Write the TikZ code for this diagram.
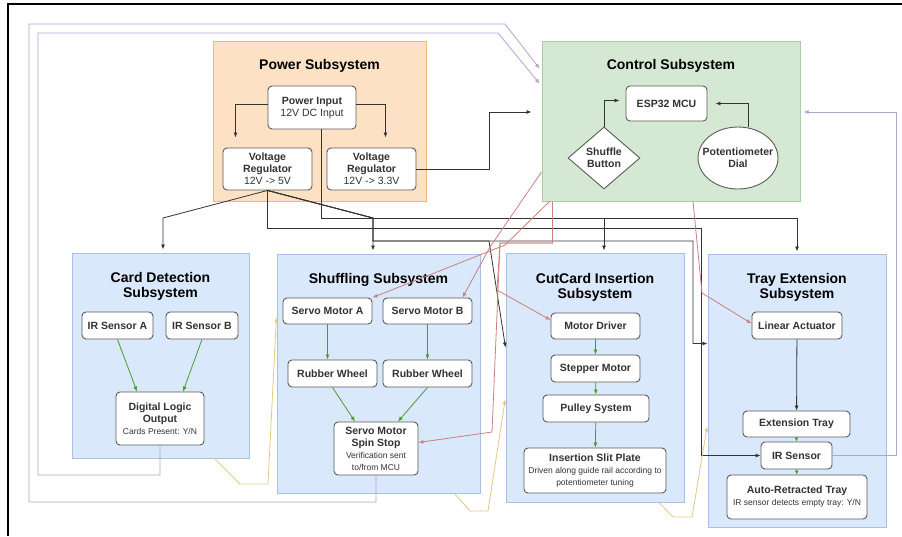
\documentclass[tikz,border=0pt]{standalone}
\usepackage{fontspec}
\setmainfont{Liberation Sans}
\usetikzlibrary{arrows.meta,shapes.geometric}
\definecolor{ink}{HTML}{333333}
\definecolor{edge}{HTML}{5A5A5A}
\definecolor{pwrFill}{HTML}{FCE1C5}
\definecolor{pwrLine}{HTML}{EEBB70}
\definecolor{ctlFill}{HTML}{D5E8D4}
\definecolor{ctlLine}{HTML}{A8CFA5}
\definecolor{subFill}{HTML}{DAE8FC}
\definecolor{subLine}{HTML}{A9C1E5}
\definecolor{sigGreen}{HTML}{4C9A2A}
\definecolor{sigRed}{HTML}{CC7F7F}
\definecolor{sigPurple}{HTML}{B3A3D1}
\definecolor{sigYellow}{HTML}{E3C882}
\newcommand{\smalltxt}[1]{{\fontsize{8.5}{10.5}\selectfont\mdseries #1}}
\tikzset{
  pwrgroup/.style={draw=pwrLine,fill=pwrFill,line width=1pt,inner sep=0pt},
  ctlgroup/.style={draw=ctlLine,fill=ctlFill,line width=1pt,inner sep=0pt},
  subgroup/.style={draw=subLine,fill=subFill,line width=1pt,inner sep=0pt},
  title/.style={font=\fontsize{14}{15}\selectfont\bfseries,text=black,align=center},
  part/.style={draw=edge,fill=white,rounded corners=4pt,line width=0.9pt,align=center,
    font=\fontsize{10.5}{12}\selectfont\bfseries,text=ink,inner sep=1pt},
  wire/.style={-{Latex[length=5pt,width=4pt]},line width=0.8pt,draw=ink},
  feed/.style={wire,draw=sigGreen},
  ctlwire/.style={wire,draw=sigRed},
  backwire/.style={wire,draw=sigPurple,shorten >=3pt},
  linkwire/.style={wire,draw=sigYellow,shorten >=2pt}
}

\begin{document}
\begin{tikzpicture}[x=1pt,y=-1pt]
  \useasboundingbox (0,0) rectangle (902,536);
  \draw[line width=1.6pt] (902,4) -- (8,4) -- (8,536);

  % subsystem groups
  \node[pwrgroup,minimum width=213pt,minimum height=160pt] (pwr) at (319.5,121) {};
  \node[ctlgroup,minimum width=258pt,minimum height=160pt] (ctrl) at (671,121) {};
  \node[subgroup,minimum width=177pt,minimum height=205pt] (card) at (160.5,355.5) {};
  \node[subgroup,minimum width=203pt,minimum height=239pt] (shuf) at (378.5,373.5) {};
  \node[subgroup,minimum width=178pt,minimum height=249pt] (cut) at (595,377.5) {};
  \node[subgroup,minimum width=178pt,minimum height=273pt] (tray) at (797,390.5) {};

  \node[title] (pwrtitle) at (319.5,66) {Power Subsystem};
  \node[title] (ctrltitle) at (671,66) {Control Subsystem};
  \node[title] (cardtitle) at (160.5,286) {Card Detection\\Subsystem};
  \node[title] (shuftitle) at (378.5,280) {Shuffling Subsystem};
  \node[title] (cuttitle) at (595,287) {CutCard Insertion\\Subsystem};
  \node[title] (traytitle) at (797,287) {Tray Extension\\Subsystem};

  % power
  \node[part,minimum width=88pt,minimum height=43pt] (pin) at (312,107.5) {Power Input\\{\mdseries 12V DC Input}};
  \node[part,minimum width=89pt,minimum height=42pt] (reg5) at (267.5,169) {Voltage\\Regulator\\{\mdseries 12V -> 5V}};
  \node[part,minimum width=89pt,minimum height=42pt] (reg33) at (371.5,169) {Voltage\\Regulator\\{\mdseries 12V -> 3.3V}};

  % control
  \node[part,minimum width=81pt,minimum height=35pt] (mcu) at (666.5,103.5) {ESP32 MCU};
  \node[part,diamond,rounded corners=0pt,aspect=1.16,minimum width=72pt,minimum height=62pt,inner sep=0pt] (btn) at (604,158) {Shuffle\\Button};
  \node[part,ellipse,rounded corners=0pt,minimum width=80pt,minimum height=62pt,
    label={[font=\fontsize{10.5}{12}\selectfont\bfseries,text=ink,align=center]center:Potentiometer\\Dial}] (dial) at (738,158) {};

  % card detection
  \node[part,minimum width=71pt,minimum height=27pt] (irA) at (117.5,325.5) {IR Sensor A};
  \node[part,minimum width=72pt,minimum height=27pt] (irB) at (202,325.5) {IR Sensor B};
  \node[part,minimum width=88pt,minimum height=53pt] (dlo) at (160,418.5) {Digital Logic\\Output\\\smalltxt{Cards Present: Y/N}};

  % shuffling
  \node[part,minimum width=89pt,minimum height=26pt] (servoA) at (327.5,311) {Servo Motor A};
  \node[part,minimum width=89pt,minimum height=26pt] (servoB) at (427.5,311) {Servo Motor B};
  \node[part,minimum width=89pt,minimum height=27pt] (wheelA) at (332.5,373.5) {Rubber Wheel};
  \node[part,minimum width=89pt,minimum height=27pt] (wheelB) at (427.5,373.5) {Rubber Wheel};
  \node[part,minimum width=84pt,minimum height=53pt] (spin) at (376,448.5) {Servo Motor\\Spin Stop\\\smalltxt{Verification sent}\\\smalltxt{to/from MCU}};

  % cutcard insertion
  \node[part,minimum width=89pt,minimum height=26pt] (mdrv) at (595.5,326) {Motor Driver};
  \node[part,minimum width=89pt,minimum height=27pt] (stepm) at (595.5,368.5) {Stepper Motor};
  \node[part,minimum width=106pt,minimum height=27pt] (pulley) at (596,408.5) {Pulley System};
  \node[part,minimum width=142pt,minimum height=45pt] (slit) at (595,470.5) {Insertion Slit Plate\\\smalltxt{Driven along guide rail according to}\\\smalltxt{potentiometer tuning}};

  % tray extension
  \node[part,minimum width=90pt,minimum height=27pt] (lin) at (797,325.5) {Linear Actuator};
  \node[part,minimum width=107pt,minimum height=26pt] (extray) at (796.5,424) {Extension Tray};
  \node[part,minimum width=71pt,minimum height=27pt] (irs) at (796.5,455.5) {IR Sensor};
  \node[part,minimum width=140pt,minimum height=44pt] (auto) at (797,497) {Auto-Retracted Tray\\\smalltxt{IR sensor detects empty tray: Y/N}};

  % power wiring
  \draw[wire,shorten >=10pt] ([yshift=3pt]pin.west) -| ([xshift=-32pt]reg5.north);
  \draw[wire,shorten >=10pt] ([yshift=3pt]pin.east) -| ([xshift=14pt]reg33.north);
  \draw[wire,shorten >=10pt] (reg33.east) -| (489,112) -- ([yshift=9pt]ctrl.west);
  \draw[wire,shorten >=3pt] (reg5.south) -- (163,218) -- (163,0 |- card.north);
  \draw[wire,shorten >=3pt] (reg5.south) -- (373,218) -- (373,0 |- shuf.north);
  \draw[wire] (reg5.south) |- (701,228) |- (irs.west);
  \draw[wire] (reg5.south) -- (373,218) |- (693,241) |- ([yshift=47pt]tray.west);
  \draw[wire] (reg5.south) -- (373,218) |- (489,241) -- ([yshift=30pt]cut.west);
  \draw[wire,shorten >=2pt] ([xshift=9pt]pin.south) |- (604,218) -- ([xshift=9pt]cut.north);
  \draw[wire,shorten >=2pt] ([xshift=9pt]pin.south) |- (797,218) -- (tray.north);
  \draw[wire] (lin) -- (extray);

  % control wiring
  \draw[wire,shorten >=6pt] (btn.north) |- ([yshift=3pt]mcu.west);
  \draw[wire,shorten >=8pt] ([xshift=10pt]dial.north) |- (mcu.east);

  % internal flow
  \draw[feed] (irA.south) -- ([xshift=-23pt]dlo.north);
  \draw[feed] (irB.south) -- ([xshift=23pt]dlo.north);
  \draw[feed] (servoA.south) -- (servoA.south |- wheelA.north);
  \draw[feed] (servoB.south) -- (wheelB.north);
  \draw[feed] (wheelA.south) -- ([xshift=-21pt]spin.north);
  \draw[feed] (wheelB.south) -- ([xshift=22pt]spin.north);
  \draw[feed] (mdrv) -- (stepm);
  \draw[feed] (stepm) -- (pulley);
  \draw[feed] (pulley) -- (slit);
  \draw[feed,-{Latex[length=4pt,width=4pt]}] (extray) -- (irs);
  \draw[feed,-{Latex[length=4pt,width=4pt]}] (irs) -- (auto);

  % MCU commands
  \draw[ctlwire] ([xshift=8pt]ctrl.south west) -- (505,245) -- (servoA.north east);
  \draw[ctlwire] ([yshift=-51pt]ctrl.west) -- (490,247) -- ([xshift=35pt]servoB.north);
  \draw[ctlwire] ([xshift=11pt]ctrl.south west) |- (500,243) -- (492,432) -- ([yshift=6pt]spin.east);
  \draw[ctlwire] ([xshift=11pt]ctrl.south west) |- (500,243) -- (497,290) -- ([yshift=6pt]mdrv.west);
  \draw[ctlwire] ([xshift=22pt]ctrl.south) -- (702,293) -- ([yshift=2pt]lin.west);

  % feedback to MCU
  \draw[backwire] (dlo.south) |- (38,475) |- (498,33) -- ([yshift=35pt]ctrl.west);
  \draw[backwire] (spin.south) |- (29,502) |- (505,24) -- ([yshift=50pt]ctrl.west);
  \draw[backwire] (irs.east) -| (896,112) -- ([yshift=9pt]ctrl.east);

  % stage hand-off
  \draw[linkwire] ([xshift=54pt]card.south) -- (240,484) -- (268,484) -- ([yshift=58pt]shuf.west);
  \draw[linkwire] ([xshift=76pt]shuf.south) -- (470,511) -- (488,511) -- ([yshift=-20pt]cut.west);
  \draw[linkwire] ([xshift=64pt]cut.south) -- (673,517) -- (692,517) -- ([yshift=-34pt]tray.west);
\end{tikzpicture}
\end{document}
